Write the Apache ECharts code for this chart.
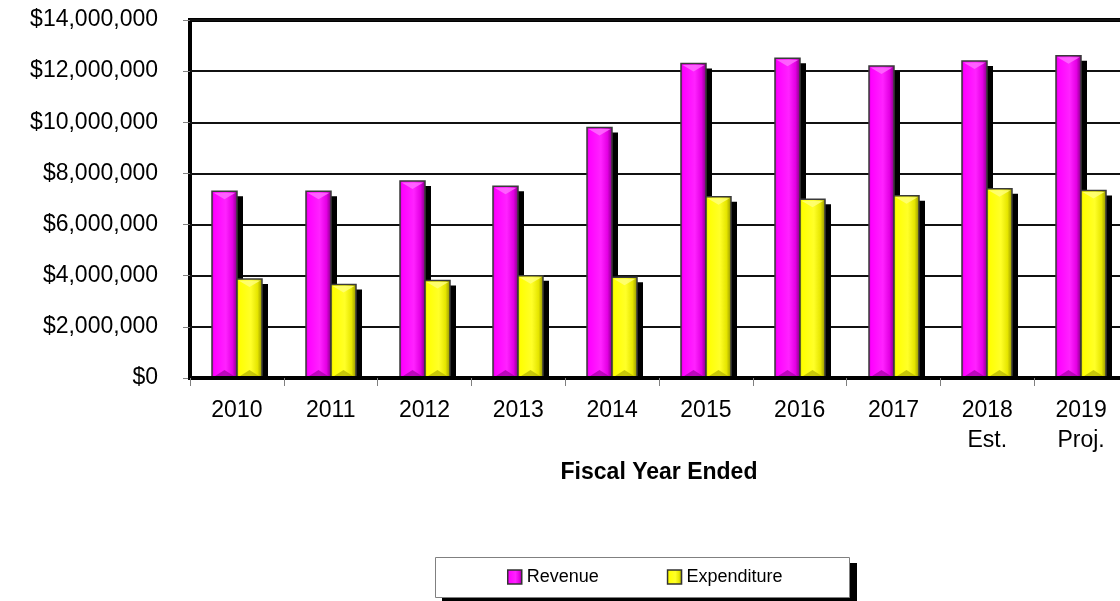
<!DOCTYPE html>
<html>
<head>
<meta charset="utf-8">
<script src="https://cdn.jsdelivr.net/npm/echarts@6/dist/echarts.min.js"></script>
<style>
html,body{margin:0;padding:0;background:#fff;}
#chart{width:1120px;height:601px;}
</style>
</head>
<body>
<div id="chart"></div>
<script>
var categories = ['2010','2011','2012','2013','2014','2015','2016','2017','2018\nEst.','2019\nProj.'];
var revenue = [7300000, 7300000, 7700000, 7500000, 9800000, 12300000, 12500000, 12200000, 12400000, 12600000];
var expenditure = [3870000, 3660000, 3810000, 4000000, 3940000, 7090000, 6990000, 7130000, 7400000, 7330000];
var yMin = 0, yMax = 14000000, yStep = 2000000;
var axisName = 'Fiscal Year Ended';
var seriesNames = ['Revenue', 'Expenditure'];

var FONT = '"Liberation Sans", Arial, sans-serif';

function grad(stops) {
  return new echarts.graphic.LinearGradient(0, 0, 1, 0, stops);
}
var palette = {
  magenta: {
    body: [
      {offset: 0, color: '#b000b0'},
      {offset: 0.1, color: '#ff00ff'},
      {offset: 0.55, color: '#ff22ff'},
      {offset: 0.8, color: '#e400e4'},
      {offset: 1, color: '#780078'}
    ],
    top: '#ff70ff', bottom: '#a000a0'
  },
  yellow: {
    body: [
      {offset: 0, color: '#bcbc00'},
      {offset: 0.1, color: '#ffff00'},
      {offset: 0.55, color: '#ffff28'},
      {offset: 0.8, color: '#e6e600'},
      {offset: 1, color: '#8a8a00'}
    ],
    top: '#ffff80', bottom: '#b0b000'
  }
};

// side: -1 -> bar left of category centre, +1 -> right of it
function makeRender(side, pal) {
  return function (params, api) {
    var idx = api.value(0), val = api.value(1);
    var topPt = api.coord([idx, val]);
    var basePt = api.coord([idx, 0]);
    var band = api.size([1, 0])[0];
    var w = Math.round(band * 0.268);
    var cx = Math.round(topPt[0]);
    var x = side < 0 ? cx - w : cx;
    var y = topPt[1];
    var h = basePt[1] - y;
    var bev = Math.min(8, h / 2);
    return {
      type: 'group',
      children: [
        {type: 'rect', shape: {x: x + 6, y: y + 5, width: w, height: Math.max(0, h - 5)}, style: {fill: '#000'}},
        {type: 'rect', shape: {x: x, y: y, width: w, height: h}, style: {fill: grad(pal.body), stroke: '#3a3a3a', lineWidth: 1.5}},
        {type: 'polygon', shape: {points: [[x + 1.5, y + 1.5], [x + w - 1.5, y + 1.5], [x + w / 2, y + bev]]}, style: {fill: pal.top, opacity: 0.8}},
        {type: 'polygon', shape: {points: [[x + 1.5, basePt[1] - 1], [x + w - 1.5, basePt[1] - 1], [x + w / 2, basePt[1] - bev]]}, style: {fill: pal.bottom, opacity: 0.7}}
      ]
    };
  };
}

function pairs(arr) { return arr.map(function (v, i) { return [i, v]; }); }

var chart = echarts.init(document.getElementById('chart'), null, {renderer: 'canvas'});
chart.setOption({
  animation: false,
  backgroundColor: '#fff',
  grid: {
    left: 190, top: 20, width: 938, height: 358,
    outerBoundsMode: 'none',
    containLabel: false,
    show: true, borderColor: '#000', borderWidth: 4, backgroundColor: 'transparent'
  },
  graphic: [
    {type: 'rect', z: 1, shape: {x: 442, y: 563, width: 415, height: 40}, style: {fill: '#000'}},
    {type: 'rect', z: 2, shape: {x: 435.5, y: 557.5, width: 414, height: 40}, style: {fill: '#fff', stroke: '#808080', lineWidth: 1}}
  ],
  legend: {
    z: 10,
    left: 435, top: 557,
    padding: [10, 67, 10, 72],
    itemGap: 68,
    itemWidth: 14, itemHeight: 14,
    icon: 'rect',
    itemStyle: {borderColor: '#333', borderWidth: 1.5},
    textStyle: {fontFamily: FONT, fontSize: 18, color: '#000', lineHeight: 20},
    data: seriesNames
  },
  xAxis: {
    type: 'category',
    data: categories,
    z: 3,
    axisLine: {show: true, lineStyle: {color: '#000', width: 4}},
    axisTick: {show: true, length: 8, lineStyle: {color: '#808080', width: 1}},
    axisLabel: {fontFamily: FONT, fontSize: 23, color: '#000', margin: 18, lineHeight: 30, interval: 0},
    name: axisName,
    nameLocation: 'middle',
    nameGap: 82,
    nameTextStyle: {fontFamily: FONT, fontSize: 23, fontWeight: 'bold', color: '#000'}
  },
  yAxis: {
    type: 'value',
    min: yMin, max: yMax, interval: yStep,
    axisLine: {show: false},
    axisTick: {show: true, length: 7, lineStyle: {color: '#808080', width: 1}},
    splitLine: {show: true, lineStyle: {color: '#111', width: 2}},
    axisLabel: {
      fontFamily: FONT, fontSize: 23, color: '#000', margin: 32,
      formatter: function (v) { return '$' + v.toLocaleString('en-US'); }
    }
  },
  series: [
    {
      name: seriesNames[0], type: 'custom', data: pairs(revenue),
      encode: {x: 0, y: 1},
      itemStyle: {color: grad(palette.magenta.body)},
      renderItem: makeRender(-1, palette.magenta)
    },
    {
      name: seriesNames[1], type: 'custom', data: pairs(expenditure),
      encode: {x: 0, y: 1},
      itemStyle: {color: grad(palette.yellow.body)},
      renderItem: makeRender(1, palette.yellow)
    }
  ]
});
</script>
</body>
</html>
